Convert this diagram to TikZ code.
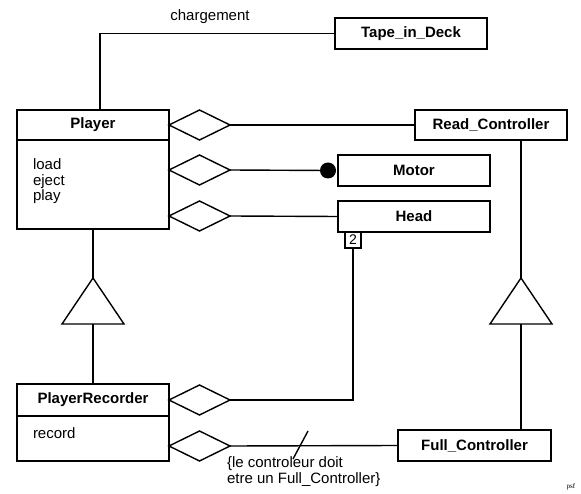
\documentclass[tikz,border=0pt]{standalone}
\usepackage{fontspec}
\setmainfont{Liberation Sans}
\newfontfamily\psffont{Liberation Serif}
\usetikzlibrary{shapes.geometric}
\begin{document}
\begin{tikzpicture}[x=1pt,y=-1pt,line width=1.4pt,
  every node/.style={inner sep=0pt,outer sep=0pt},
  cls/.style={draw,minimum width=152pt,font=\fontsize{15}{16}\selectfont\bfseries},
  body/.style={draw,minimum width=152pt},
  txt/.style={font=\fontsize{15}{16}\selectfont,anchor=base west},
  agg/.style={draw,diamond,aspect=2,minimum width=61pt,minimum height=30pt},
  dotend/.style={circle,fill,minimum size=16pt},
  mult/.style={draw,line width=1.2pt,minimum width=16pt,minimum height=16pt,font=\fontsize{14}{14}\selectfont}]
\useasboundingbox (0,0) rectangle (581,494);
% classes
\node[cls,minimum height=30pt] (playerh) at (93,125) {Player};
\node[body,minimum height=89pt] (playerb) at (93,184.5) {};
\draw[line width=2pt] (playerh.south west) -- (playerh.south east);
\node[txt] (t1) at (33,170) {load};
\node[txt] (t2) at (33,186) {eject};
\node[txt] (t3) at (33,201) {play};
\node[cls,minimum height=31pt] (tape) at (411,33.5) {Tape\_in\_Deck};
\node[cls,minimum height=30pt] (readc) at (491,125) {Read\_Controller};
\node[cls,minimum height=31pt] (motor) at (414,170.5) {Motor};
\node[cls,minimum height=31pt] (head) at (414,216.5) {Head};
\node[cls,minimum height=32pt] (prh) at (93,400) {PlayerRecorder};
\node[body,minimum height=45pt] (prb) at (93,438.5) {};
\draw[line width=2pt] (prh.south west) -- (prh.south east);
\node[txt] (t4) at (33,438) {record};
\node[cls,minimum width=153pt,minimum height=31pt] (fullc) at (474.5,445.5) {Full\_Controller};
% association chargement
\draw ([xshift=7pt]playerh.north) |- (tape.west);
\node[font=\fontsize{15}{16}\selectfont] (charg) at (210,17) {chargement};
% aggregations
\node[agg] (d1) at (199.5,125) {};
\node[agg] (d2) at (199.5,170) {};
\node[agg] (d3) at (199.5,216) {};
\node[agg] (d4) at (199.5,400) {};
\node[agg] (d5) at (199.5,446) {};
\draw (d1.east) -- (readc.west);
\node[dotend] (dot) at (328,170.5) {};
\draw (d2.east) -- (dot);
\draw (d3.east) -- (head.west);
\node[mult] (m2) at (353,240) {2};
\draw (m2.south) |- (d4.east);
\draw (d5.east) -- (fullc.west);
\coordinate (s1) at (293,459);
\coordinate (s2) at (308,431);
\draw (s1) -- (s2);
\node[txt] (c1) at (227,467) {\{le controleur doit};
\node[txt] (c2) at (227,483) {etre un Full\_Controller\}};
% generalisation Player <- PlayerRecorder
\coordinate (ta) at (93,278);
\coordinate (tl) at (62,324);
\coordinate (tr) at (124,324);
\coordinate (tb) at (93,324);
\draw (playerb.south) -- (ta);
\draw (ta) -- (tl) -- (tr) -- cycle;
\draw (tb) -- (prh.north);
% generalisation Read_Controller <- Full_Controller
\coordinate (ra) at (521,278);
\coordinate (rl) at (490,324);
\coordinate (rr) at (552,324);
\coordinate (rb) at (521,324);
\draw (readc.south -| ra) -- (ra);
\draw (ra) -- (rl) -- (rr) -- cycle;
\draw (rb) -- (fullc.north -| rb);
\node[font=\psffont\fontsize{7}{8}\selectfont] (psf) at (571,487) {psf};
\end{tikzpicture}
\end{document}
